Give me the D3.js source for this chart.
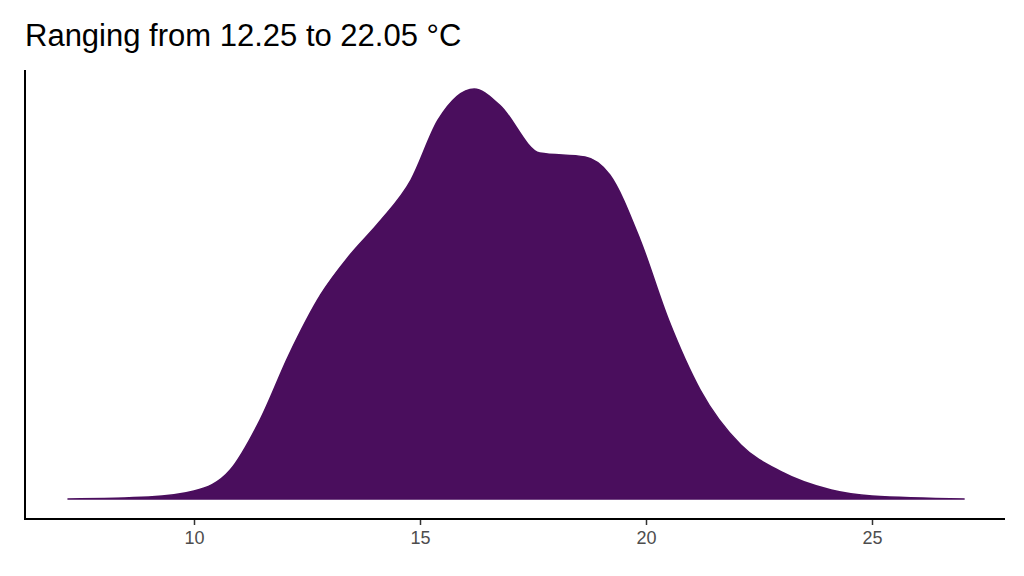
<!DOCTYPE html>
<html><head><meta charset="utf-8">
<script src="https://cdn.jsdelivr.net/npm/d3@7"></script>
<style>body{margin:0;background:#fff}</style></head>
<body><svg id="c" width="1024" height="576"></svg>
<script>
const temps = [7.2, 9.0, 10.0, 10.8, 11.46, 12.1, 12.8, 13.45, 14.1, 14.8, 15.4, 16.2, 16.76, 17.65, 18.65, 19.2, 19.87, 20.5, 21.2, 22.1, 23.0, 24.1, 25.0, 27.05];
const density = [0, 2, 8, 29, 79, 144, 204, 244, 277, 319, 379, 410, 394, 346, 342, 324, 259, 179, 109, 54, 27, 9, 3, 0];
const tickValues = [10, 15, 20, 25];
const title = "Ranging from 12.25 to 22.05 °C";

const svg = d3.select("#c");
const x = d3.scaleLinear().domain([10, 25]).range([194, 872]);
const y = d3.scaleLinear().domain([0, 410]).range([499, 89]);
const data = temps.map((t, i) => [t, density[i]]);
const area = d3.area().x(d => x(d[0])).y0(y(0)).y1(d => y(d[1])).curve(d3.curveMonotoneX);
svg.append("path").datum(data).attr("d", area).attr("fill", "#4A0E5D").attr("stroke", "#4A0E5D").attr("stroke-width", 1.5);

svg.append("line").attr("x1", 25).attr("x2", 25).attr("y1", 70).attr("y2", 520).attr("stroke", "#000").attr("stroke-width", 2);
const ax = svg.append("g").attr("transform", "translate(0,519)")
  .call(d3.axisBottom(x).tickValues(tickValues).tickSize(6).tickPadding(6));
ax.select(".domain").remove();
svg.append("line").attr("x1", 24).attr("x2", 1005).attr("y1", 519).attr("y2", 519).attr("stroke", "#000").attr("stroke-width", 2);
ax.selectAll(".tick line").attr("stroke", "#333").attr("stroke-width", 1.5);
ax.selectAll("text").attr("font-family", "Liberation Sans, Arial, sans-serif").attr("font-size", 18).attr("fill", "#4d4d4d");
svg.append("text").attr("x", 25).attr("y", 46).attr("font-family", "Liberation Sans, Arial, sans-serif").attr("font-size", 31).attr("fill", "#000").text(title);
</script></body></html>
